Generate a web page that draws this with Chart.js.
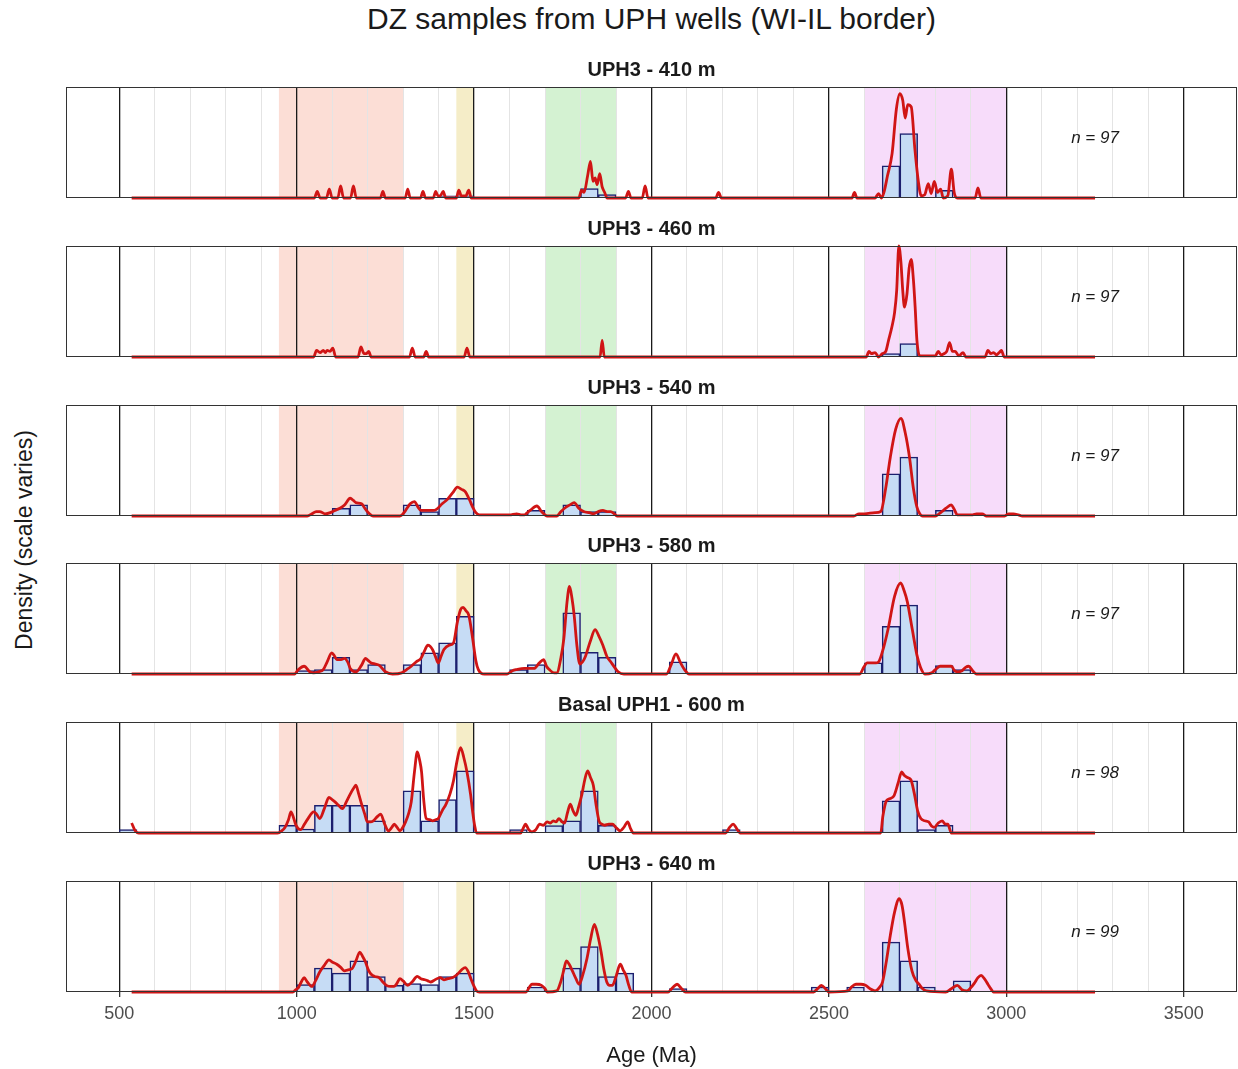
<!DOCTYPE html>
<html>
<head>
<meta charset="utf-8">
<title>DZ samples from UPH wells</title>
<script src="https://cdn.jsdelivr.net/npm/chart.js@4.4.1/dist/chart.umd.min.js"></script>
<style>
  body { margin: 0; background: #fff; font-family: "Liberation Sans", Arial, sans-serif; }
  #page { position: relative; width: 1238px; height: 1069px; overflow: hidden; }
  #title { position: absolute; left: 66px; width: 1171px; top: 2px; text-align: center; font-size: 30px; color: #1a1a1a; }
  #ylab { position: absolute; left: 24px; top: 540px; transform: translate(-50%, -50%) rotate(-90deg); font-size: 23px; color: #1a1a1a; white-space: nowrap; }
  .panel { position: absolute; left: 65px; }
</style>
</head>
<body>
<div id="page">
  <div id="title">DZ samples from UPH wells (WI-IL border)</div>
  <div id="ylab">Density (scale varies)</div>
</div>
<script>
// Facet titles and sample sizes
const panelTitles = ['UPH3 - 410 m', 'UPH3 - 460 m', 'UPH3 - 540 m', 'UPH3 - 580 m', 'Basal UPH1 - 600 m', 'UPH3 - 640 m'];
const sampleSizes = [97, 97, 97, 97, 98, 99];

// Shaded age provinces (Ma)
const bandStart = [950, 1450, 1700, 2600];
const bandEnd = [1300, 1500, 1900, 3000];
const bandColors = ['#fcded6', '#f5edc8', '#d4f2d2', '#f7dcfa'];

// Vertical reference lines and tick labels (Ma)
const gridAges = [500, 600, 700, 800, 900, 1000, 1100, 1200, 1300, 1400, 1500, 1600, 1700, 1800, 1900, 2000,
  2100, 2200, 2300, 2400, 2500, 2600, 2700, 2800, 2900, 3000, 3100, 3200, 3300, 3400, 3500];
const labelAges = [500, 1000, 1500, 2000, 2500, 3000, 3500];

// Histograms: start of 50 Ma bin, bar height (% of panel height)
const hist410Bins = [1400, 1450, 1800, 1850, 2650, 2700, 2800];
const hist410Heights = [2, 2, 8.5, 3, 29, 58, 7];
const hist460Bins = [2650, 2700];
const hist460Heights = [3, 12];
const hist540Bins = [1100, 1150, 1300, 1350, 1400, 1450, 1650, 1750, 1800, 1850, 2650, 2700, 2800];
const hist540Heights = [7, 10, 10, 4, 16, 16, 5, 10, 4, 4, 38, 53, 5];
const hist580Bins = [1000, 1050, 1100, 1150, 1200, 1300, 1350, 1400, 1450, 1600, 1650, 1750, 1800, 1850, 2050, 2600, 2650, 2700, 2800, 2850];
const hist580Heights = [3, 4, 15, 4, 8.5, 8.5, 19, 28, 52, 4, 8.5, 55, 19.5, 15, 11, 10, 43, 62, 7.5, 4];
const hist600Bins = [500, 950, 1000, 1050, 1100, 1150, 1200, 1300, 1350, 1400, 1450, 1600, 1700, 1750, 1800, 1850, 2200, 2650, 2700, 2750, 2800];
const hist600Heights = [3, 7, 3.6, 25, 25, 25, 11, 38, 11, 30, 56, 3, 6.6, 11, 38, 7, 3, 29, 47, 3, 7];
const hist640Bins = [1000, 1050, 1100, 1150, 1200, 1250, 1300, 1350, 1400, 1450, 1650, 1750, 1800, 1850, 1900, 2050, 2450, 2550, 2650, 2700, 2750, 2850];
const hist640Heights = [6.6, 21.5, 17, 28, 14, 6, 7.5, 6.6, 14, 17, 4.5, 21.5, 41, 14, 17, 3, 4.5, 4.5, 45, 28, 4.5, 10];

// KDE curves: [age (Ma), density (% of panel height)]
const kde410 = [[535, 0], [1050, 0], [1058, 6], [1066, 0], [1084, 0], [1092, 8], [1100, 0], [1116, 0], [1124, 11], [1132, 0],
  [1152, 0], [1160, 11], [1168, 0], [1236, 0], [1243, 6], [1250, 0], [1306, 0], [1313, 8], [1320, 0], [1349, 0], [1356, 6], [1363, 0],
  [1385, 0], [1392, 6], [1398, 2], [1405, 2], [1413, 6], [1420, 0], [1450, 0], [1457, 7], [1464, 2], [1477, 2], [1485, 7], [1492, 0],
  [1795, 0], [1803, 7], [1810, 5], [1820, 20], [1828, 33], [1835, 15], [1841, 18], [1847, 12], [1854, 22], [1861, 10], [1868, 5], [1875, 0],
  [1927, 0], [1935, 6], [1942, 0], [1974, 0], [1982, 11], [1990, 0], [2181, 0], [2189, 5], [2197, 0], [2565, 0], [2572, 5], [2579, 0],
  [2630, 0], [2640, 4], [2648, 0], [2655, 5], [2665, 20], [2678, 40], [2690, 80], [2700, 94], [2708, 88], [2715, 72], [2722, 84],
  [2732, 82], [2742, 45], [2752, 15], [2760, 2], [2770, 3], [2780, 13], [2788, 4], [2797, 15], [2806, 5], [2815, 8], [2822, 0],
  [2835, 2], [2845, 26], [2853, 5], [2862, 0], [2912, 0], [2920, 9], [2928, 0], [3250, 0]];
const kde460 = [[535, 0], [1048, 0], [1056, 6], [1066, 4], [1075, 6], [1081, 4], [1086, 6], [1094, 5], [1102, 8], [1110, 0],
  [1173, 0], [1181, 9], [1190, 3], [1196, 3], [1203, 5], [1210, 0], [1318, 0], [1326, 8], [1334, 0], [1358, 0], [1365, 5], [1372, 0],
  [1472, 0], [1480, 8], [1488, 0], [1855, 0], [1861, 15], [1867, 0], [2605, 0], [2613, 5], [2620, 3], [2630, 4], [2640, 0], [2650, 3],
  [2660, 5], [2668, 15], [2678, 28], [2685, 40], [2691, 60], [2697, 100], [2703, 85], [2708, 60], [2713, 45], [2720, 57], [2726, 80],
  [2732, 88], [2738, 70], [2743, 45], [2748, 15], [2756, 1], [2800, 1], [2808, 5], [2816, 2], [2824, 3], [2832, 5], [2840, 13],
  [2848, 5], [2856, 5], [2866, 1], [2878, 4], [2886, 0], [2940, 0], [2948, 6], [2956, 3], [2964, 4], [2972, 2], [2980, 4], [2986, 6],
  [2994, 0], [3250, 0]];
const kde540 = [[535, 0], [1030, 0], [1043, 2], [1055, 4], [1065, 4], [1080, 2], [1095, 3], [1108, 5], [1122, 7], [1135, 10],
  [1151, 16], [1160, 14], [1167, 12], [1183, 11], [1192, 7], [1199, 4], [1216, 0], [1291, 0], [1300, 2], [1307, 5], [1320, 11],
  [1332, 13], [1342, 8], [1350, 5], [1370, 5], [1385, 5], [1394, 6], [1410, 11], [1425, 15], [1440, 21], [1453, 26], [1465, 24],
  [1475, 22], [1488, 14], [1496, 8], [1505, 3], [1515, 1], [1600, 1], [1620, 2], [1632, 1], [1642, 1], [1650, 3], [1658, 5], [1677, 9],
  [1690, 4], [1706, 0], [1733, 0], [1745, 4], [1755, 7], [1770, 10], [1782, 12], [1795, 7], [1809, 4], [1825, 3], [1836, 2], [1850, 4],
  [1863, 5], [1875, 4], [1885, 4], [1895, 2], [1903, 0], [2570, 0], [2585, 2], [2600, 2], [2630, 3], [2646, 4], [2660, 25], [2673, 53],
  [2688, 78], [2703, 88], [2715, 75], [2727, 53], [2738, 25], [2748, 8], [2756, 2], [2764, 0], [2800, 0], [2818, 4], [2830, 7],
  [2845, 10], [2853, 6], [2862, 1], [2905, 1], [2916, 2], [2932, 2], [2943, 0], [2995, 0], [3007, 2], [3020, 2], [3034, 1], [3045, 0],
  [3250, 0]];
const kde580 = [[535, 0], [994, 0], [1005, 4], [1021, 7], [1037, 2], [1048, 1], [1062, 2], [1075, 4], [1086, 11], [1099, 19],
  [1107, 16], [1113, 13], [1125, 13], [1135, 14], [1145, 10], [1151, 5], [1167, 2], [1183, 8], [1194, 14], [1202, 12], [1210, 10],
  [1222, 9], [1232, 8], [1250, 2], [1270, 0], [1296, 1], [1310, 4], [1323, 7], [1337, 11], [1350, 14], [1362, 22], [1369, 26],
  [1376, 25], [1383, 22], [1392, 15], [1399, 10], [1407, 16], [1415, 22], [1430, 26], [1442, 28], [1453, 47], [1462, 58], [1469, 60],
  [1477, 57], [1485, 53], [1496, 32], [1505, 12], [1512, 4], [1529, 0], [1593, 0], [1608, 3], [1620, 4], [1642, 5], [1655, 5],
  [1669, 5], [1684, 10], [1696, 13], [1704, 7], [1712, 4], [1725, 1], [1733, 1], [1745, 15], [1753, 32], [1762, 65], [1769, 79],
  [1776, 68], [1782, 53], [1790, 25], [1798, 9], [1806, 11], [1814, 16], [1828, 30], [1841, 40], [1852, 34], [1863, 26], [1874, 16],
  [1885, 11], [1896, 6], [1906, 2], [1922, 0], [2042, 0], [2055, 8], [2069, 18], [2082, 10], [2093, 4], [2106, 0], [2587, 0],
  [2598, 6], [2608, 10], [2620, 10], [2632, 10], [2640, 11], [2655, 25], [2667, 41], [2685, 70], [2702, 82], [2712, 75], [2721, 65],
  [2735, 40], [2748, 17], [2758, 6], [2770, 0], [2790, 1], [2800, 4], [2813, 7], [2830, 7], [2845, 7], [2854, 3], [2862, 2],
  [2875, 3], [2885, 6], [2894, 7], [2905, 3], [2916, 0], [3250, 0]];
const kde600 = [[535, 9], [545, 2], [555, 0], [946, 0], [958, 2], [967, 5], [977, 12], [984, 19], [991, 14], [998, 7], [1011, 3],
  [1022, 8], [1032, 13], [1048, 19], [1056, 17], [1065, 13], [1078, 22], [1091, 32], [1100, 30], [1108, 28], [1118, 25], [1129, 22],
  [1140, 28], [1151, 35], [1160, 40], [1167, 43], [1175, 35], [1183, 26], [1192, 17], [1199, 10], [1208, 10], [1216, 11], [1228, 15],
  [1237, 17], [1248, 8], [1259, 2], [1268, 5], [1275, 8], [1283, 5], [1291, 2], [1299, 5], [1307, 10], [1315, 17], [1323, 28],
  [1332, 55], [1340, 73], [1347, 65], [1352, 55], [1358, 30], [1365, 13], [1375, 12], [1383, 11], [1392, 12], [1399, 13], [1410, 20],
  [1421, 26], [1432, 35], [1442, 47], [1452, 65], [1462, 77], [1471, 68], [1480, 55], [1490, 35], [1496, 19], [1502, 6], [1507, 0],
  [1631, 0], [1638, 4], [1645, 8], [1654, 3], [1663, 1], [1674, 3], [1685, 8], [1695, 7], [1706, 10], [1715, 9], [1723, 11],
  [1731, 10], [1739, 13], [1748, 10], [1755, 9], [1763, 18], [1771, 26], [1779, 20], [1787, 16], [1795, 24], [1804, 35], [1812, 48],
  [1820, 56], [1828, 50], [1836, 43], [1844, 25], [1852, 11], [1860, 8], [1868, 7], [1880, 8], [1890, 8], [1900, 5], [1912, 2],
  [1922, 5], [1933, 10], [1941, 4], [1949, 0], [2209, 0], [2220, 5], [2230, 8], [2240, 4], [2249, 0], [2646, 0], [2652, 15],
  [2662, 29], [2673, 31], [2684, 34], [2695, 45], [2705, 55], [2712, 52], [2721, 50], [2731, 48], [2741, 35], [2750, 20], [2759, 13],
  [2770, 11], [2781, 10], [2790, 6], [2797, 5], [2808, 9], [2819, 11], [2828, 8], [2835, 8], [2845, 0], [3250, 0]];
const kde640 = [[535, 0], [989, 0], [997, 2], [1005, 4], [1013, 9], [1021, 13], [1030, 9], [1043, 5], [1053, 10], [1065, 18],
  [1078, 24], [1091, 29], [1100, 27], [1113, 25], [1125, 22], [1135, 19], [1145, 20], [1156, 21], [1167, 28], [1178, 36], [1186, 32],
  [1194, 27], [1202, 20], [1210, 16], [1220, 14], [1232, 13], [1243, 9], [1253, 6], [1265, 5], [1275, 5], [1283, 8], [1291, 12],
  [1300, 10], [1313, 6], [1325, 9], [1340, 14], [1350, 12], [1361, 11], [1370, 10], [1377, 9], [1390, 11], [1404, 13], [1415, 11],
  [1426, 12], [1440, 13], [1453, 16], [1465, 20], [1475, 22], [1484, 18], [1491, 12], [1500, 5], [1507, 1], [1515, 0], [1647, 0],
  [1655, 4], [1663, 7], [1675, 7], [1690, 6], [1700, 3], [1706, 0], [1733, 1], [1745, 10], [1753, 20], [1760, 28], [1768, 25],
  [1777, 19], [1787, 12], [1796, 7], [1806, 15], [1818, 30], [1828, 47], [1839, 61], [1848, 52], [1858, 36], [1866, 20], [1874, 9],
  [1882, 6], [1890, 6], [1900, 14], [1912, 25], [1920, 20], [1928, 15], [1936, 6], [1944, 0], [2047, 0], [2060, 4], [2072, 7],
  [2085, 3], [2096, 0], [2457, 0], [2468, 3], [2479, 6], [2490, 3], [2500, 0], [2554, 1], [2565, 5], [2576, 7], [2590, 7], [2603, 6],
  [2616, 3], [2630, 1], [2642, 4], [2651, 9], [2662, 28], [2673, 51], [2685, 72], [2698, 84], [2706, 78], [2713, 63], [2722, 40],
  [2734, 19], [2744, 11], [2754, 7], [2764, 3], [2775, 1], [2829, 0], [2845, 3], [2862, 6], [2875, 2], [2889, 1], [2900, 4],
  [2910, 8], [2920, 13], [2929, 15], [2938, 12], [2948, 7], [2956, 3], [2964, 0], [3250, 0]];

const histBins = [hist410Bins, hist460Bins, hist540Bins, hist580Bins, hist600Bins, hist640Bins];
const histHeights = [hist410Heights, hist460Heights, hist540Heights, hist580Heights, hist600Heights, hist640Heights];
const kdeCurves = [kde410, kde460, kde540, kde580, kde600, kde640];

const FONT = '"Liberation Sans", Arial, sans-serif';
const STRIP = 32;      // room for the facet title above each panel
const PANEL_H = 111;   // plot area height
const AXIS_H = 80;     // room for x axis under the last panel
const BELOW = 3;       // spare pixels under a panel so the KDE baseline is not cut

// Shaded age bands behind the grid
const bandsPlugin = {
    id: 'bands',
    beforeDraw(chart) {
        const { ctx, chartArea: a, scales: { x } } = chart;
        ctx.save();
        bandStart.forEach((s, k) => {
            const x0 = x.getPixelForValue(s);
            const x1 = x.getPixelForValue(bandEnd[k]);
            ctx.fillStyle = bandColors[k];
            ctx.fillRect(x0, a.top, x1 - x0, a.bottom - a.top);
        });
        ctx.restore();
    }
};

// Panel frame drawn over the data, like ggplot's panel.border
const framePlugin = {
    id: 'frame',
    afterDatasetsDraw(chart) {
        const { ctx, chartArea: a } = chart;
        ctx.save();
        ctx.strokeStyle = '#333333';
        ctx.lineWidth = 1;
        ctx.strokeRect(a.left + 0.5, a.top + 0.5, a.right - a.left - 1, a.bottom - a.top - 1);
        ctx.restore();
    }
};

// "n = 97" label in each panel
const countPlugin = {
    id: 'count',
    afterDraw(chart, args, opts) {
        const { ctx, chartArea: a, scales: { x } } = chart;
        const cx = x.getPixelForValue(3250);
        const cy = a.top + (a.bottom - a.top) * 0.46;
        const rest = ' = ' + opts.n;
        ctx.save();
        ctx.fillStyle = '#1a1a1a';
        ctx.textBaseline = 'middle';
        ctx.font = 'italic 17px ' + FONT;
        const wN = ctx.measureText('n').width;
        const wR = ctx.measureText(rest).width;
        const x0 = cx - (wN + wR) / 2;
        ctx.fillText('n', x0, cy);
        ctx.fillText(rest, x0 + wN, cy);
        ctx.restore();
    }
};

const page = document.getElementById('page');

function makePanel(i) {
    const isBottom = i === panelTitles.length - 1;
    const top = Math.round(87 + i * 158.8);
    const canvas = document.createElement('canvas');
    const h = STRIP + PANEL_H + (isBottom ? AXIS_H : BELOW);
    canvas.width = 1173;
    canvas.height = h;
    canvas.className = 'panel';
    canvas.style.top = (top - STRIP) + 'px';
    canvas.style.width = '1173px';
    canvas.style.height = h + 'px';
    page.appendChild(canvas);

    const kde = kdeCurves[i].map(p => ({ x: p[0], y: p[1] }));
    const bars = histBins[i].map((b, k) => ({ x: b + 25, y: histHeights[i][k] }));

    new Chart(canvas, {
        type: 'bar',
        data: {
            datasets: [{
                type: 'line',
                data: kde,
                borderColor: '#d01515',
                borderWidth: 2.8,
                pointRadius: 0,
                fill: false,
                clip: 3,
                cubicInterpolationMode: 'monotone',
                order: 1
            }, {
                type: 'bar',
                data: bars,
                backgroundColor: '#c6dcf5',
                borderColor: '#1c1f6e',
                borderWidth: 1.5,
                borderSkipped: 'bottom',
                barPercentage: 1,
                categoryPercentage: 1,
                order: 2
            }]
        },
        options: {
            responsive: false,
            animation: false,
            devicePixelRatio: 1,
            layout: { padding: { left: 1, right: 1, top: 0, bottom: isBottom ? 0 : BELOW } },
            plugins: {
                legend: { display: false },
                tooltip: { enabled: false },
                title: {
                    display: true,
                    text: panelTitles[i],
                    color: '#1a1a1a',
                    font: { family: FONT, size: 20, weight: 'bold' },
                    padding: { top: 3, bottom: 5 }
                },
                count: { n: sampleSizes[i] }
            },
            scales: {
                x: {
                    type: 'linear',
                    min: 350,
                    max: 3650,
                    offset: false,
                    afterBuildTicks: s => { s.ticks = gridAges.map(v => ({ value: v })); },
                    afterFit: s => {
                        s.height = isBottom ? AXIS_H : 0;
                        s.paddingLeft = 0;
                        s.paddingRight = 0;
                    },
                    grid: {
                        offset: false,
                        color: c => (c.tick && c.tick.value % 500 === 0) ? '#1a1a1a' : '#e4e4e4',
                        lineWidth: c => (c.tick && c.tick.value % 500 === 0) ? 1.3 : 1,
                        drawTicks: isBottom,
                        tickLength: 5,
                        tickColor: c => (c.tick && c.tick.value % 500 === 0) ? '#333333' : 'rgba(0,0,0,0)'
                    },
                    border: { display: false },
                    ticks: {
                        display: isBottom,
                        autoSkip: false,
                        maxRotation: 0,
                        padding: 6,
                        color: '#4d4d4d',
                        font: { family: FONT, size: 18 },
                        callback: v => labelAges.includes(v) ? String(v) : ''
                    },
                    title: {
                        display: isBottom,
                        text: 'Age (Ma)',
                        color: '#1a1a1a',
                        font: { family: FONT, size: 22 },
                        padding: { top: 0, bottom: 3 }
                    }
                },
                y: { display: false, min: 0, max: 100 }
            }
        },
        plugins: [bandsPlugin, framePlugin, countPlugin]
    });
}

panelTitles.forEach((t, i) => makePanel(i));
</script>
</body>
</html>
